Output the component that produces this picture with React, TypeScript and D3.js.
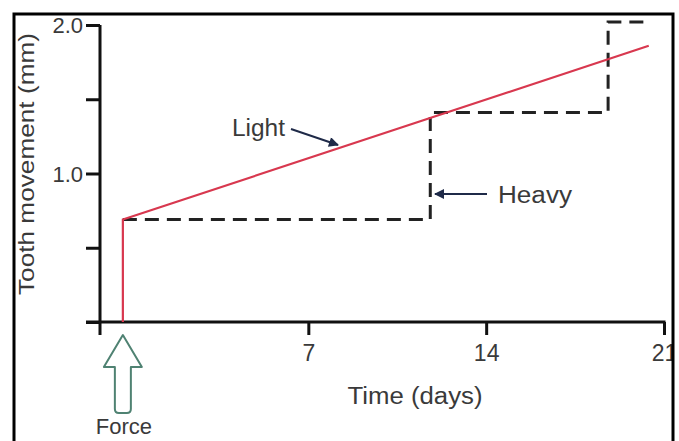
import { useEffect, useRef } from 'react';
import * as d3 from 'd3';

// tooth movement over time, light vs heavy force
const lightDays = [-0.3, -0.3, 20.4];
const lightMm = [0, 0.69, 1.86];

const heavyDays = [-0.3, 11.8, 11.8, 18.8, 18.8, 20.3];
const heavyMm = [0.69, 0.69, 1.41, 1.41, 2.02, 2.02];

const xTicks = [7, 14, 21];
const yTicks = [0, 0.5, 1.0, 1.5, 2.0];
const yLabelled = [1.0, 2.0];

const forceDay = -0.3;

const FONT = '"Liberation Sans", Arial, Helvetica, sans-serif';
const TEXT = '#3a3a3a';

export default function App() {
  const ref = useRef<SVGSVGElement | null>(null);

  useEffect(() => {
    if (!ref.current) return;
    const svg = d3.select(ref.current);
    svg.selectAll('*').remove();

    const x = d3.scaleLinear().domain([-1.2, 21]).range([100, 664]);
    const y = d3.scaleLinear().domain([0, 2]).range([322, 25]);

    const defs = svg.append('defs');
    defs.append('clipPath').attr('id', 'frameClip')
      .append('rect').attr('x', 15).attr('y', 15).attr('width', 657).attr('height', 440);

    const m = defs.append('marker')
      .attr('id', 'head')
      .attr('viewBox', '0 0 10 10')
      .attr('refX', 9).attr('refY', 5)
      .attr('markerWidth', 7).attr('markerHeight', 5)
      .attr('markerUnits', 'strokeWidth')
      .attr('orient', 'auto');
    m.append('path').attr('d', 'M0,0 L10,5 L0,10 Z').attr('fill', '#1f2a48');

    svg.append('rect').attr('width', 679).attr('height', 441).attr('fill', 'white');

    const g = svg.append('g').attr('clip-path', 'url(#frameClip)');

    // Y axis
    const yAxis = g.append('g')
      .attr('transform', `translate(${x.range()[0]},0)`)
      .call(d3.axisLeft(y)
        .tickValues(yTicks)
        .tickSize(14)
        .tickPadding(3)
        .tickFormat((d: any) => (yLabelled.includes(d) ? d3.format('.1f')(d) : '')));
    yAxis.select('.domain').remove();
    yAxis.selectAll('line').attr('stroke', '#111').attr('stroke-width', 3);
    yAxis.selectAll('text')
      .attr('font-family', FONT).attr('font-size', 22).attr('fill', TEXT)
      .attr('dy', '0.36em');
    g.append('line')
      .attr('x1', x.range()[0]).attr('x2', x.range()[0])
      .attr('y1', y(2)).attr('y2', 335)
      .attr('stroke', '#111').attr('stroke-width', 3);

    // X axis
    const xAxis = g.append('g')
      .attr('transform', `translate(0,${y(0)})`)
      .call(d3.axisBottom(x).tickValues(xTicks).tickSize(13).tickPadding(10));
    xAxis.select('.domain').remove();
    xAxis.selectAll('line').attr('stroke', '#111').attr('stroke-width', 3);
    xAxis.selectAll('text')
      .attr('font-family', FONT).attr('font-size', 23).attr('fill', TEXT);
    g.append('line')
      .attr('x1', 86).attr('x2', x(21) + 1.5)
      .attr('y1', y(0)).attr('y2', y(0))
      .attr('stroke', '#111').attr('stroke-width', 3);

    // Heavy force: dashed steps
    const heavy = heavyDays.map((d, i) => [d, heavyMm[i]] as [number, number]);
    g.append('path')
      .attr('d', d3.line<[number, number]>().x(d => x(d[0])).y(d => y(d[1]))(heavy))
      .attr('fill', 'none')
      .attr('stroke', '#222')
      .attr('stroke-width', 3)
      .attr('stroke-dasharray', '14 8');

    // Light force: continuous red
    const light = lightDays.map((d, i) => [d, lightMm[i]] as [number, number]);
    g.append('path')
      .attr('d', d3.line<[number, number]>().x(d => x(d[0])).y(d => y(d[1]))(light))
      .attr('fill', 'none')
      .attr('stroke', '#d8384f')
      .attr('stroke-width', 2.2);

    // labels
    g.append('text')
      .attr('x', 232).attr('y', 136)
      .attr('font-family', FONT).attr('font-size', 23).attr('fill', TEXT)
      .attr('textLength', 53).attr('lengthAdjust', 'spacingAndGlyphs')
      .text('Light');
    g.append('line')
      .attr('x1', 291).attr('y1', 129).attr('x2', 338).attr('y2', 145)
      .attr('stroke', '#1f2a48').attr('stroke-width', 2)
      .attr('marker-end', 'url(#head)');

    g.append('text')
      .attr('x', 498).attr('y', 203)
      .attr('font-family', FONT).attr('font-size', 23).attr('fill', TEXT)
      .attr('textLength', 74).attr('lengthAdjust', 'spacingAndGlyphs')
      .text('Heavy');
    g.append('line')
      .attr('x1', 487).attr('y1', 194).attr('x2', 435).attr('y2', 194)
      .attr('stroke', '#1f2a48').attr('stroke-width', 2)
      .attr('marker-end', 'url(#head)');

    // axis titles
    g.append('text')
      .attr('x', 415).attr('y', 404)
      .attr('text-anchor', 'middle')
      .attr('font-family', FONT).attr('font-size', 23).attr('fill', TEXT)
      .attr('textLength', 135).attr('lengthAdjust', 'spacingAndGlyphs')
      .text('Time (days)');
    g.append('text')
      .attr('transform', `translate(34,164) rotate(-90)`)
      .attr('text-anchor', 'middle')
      .attr('font-family', FONT).attr('font-size', 22).attr('fill', TEXT)
      .attr('textLength', 262).attr('lengthAdjust', 'spacingAndGlyphs')
      .text('Tooth movement (mm)');

    // Force arrow (hollow)
    const fx = x(forceDay);
    g.append('path')
      .attr('d', `M${fx},335 L${fx + 19},367 L${fx + 8},367 L${fx + 8},409 Q${fx + 8},413 ${fx + 4},413 L${fx - 4},413 Q${fx - 8},413 ${fx - 8},409 L${fx - 8},367 L${fx - 19},367 Z`)
      .attr('fill', 'white')
      .attr('stroke', '#4f8272')
      .attr('stroke-width', 2)
      .attr('stroke-linejoin', 'round');
    g.append('text')
      .attr('x', fx + 1).attr('y', 434)
      .attr('text-anchor', 'middle')
      .attr('font-family', FONT).attr('font-size', 22).attr('fill', TEXT)
      .text('Force');

    // frame
    svg.append('rect')
      .attr('x', 14).attr('y', 14).attr('width', 659).attr('height', 460)
      .attr('fill', 'none')
      .attr('stroke', '#000')
      .attr('stroke-width', 3);
  }, []);

  return (
    <svg
      ref={ref}
      width={679}
      height={441}
      style={{ position: 'fixed', left: 0, top: 0, display: 'block' }}
    />
  );
}
